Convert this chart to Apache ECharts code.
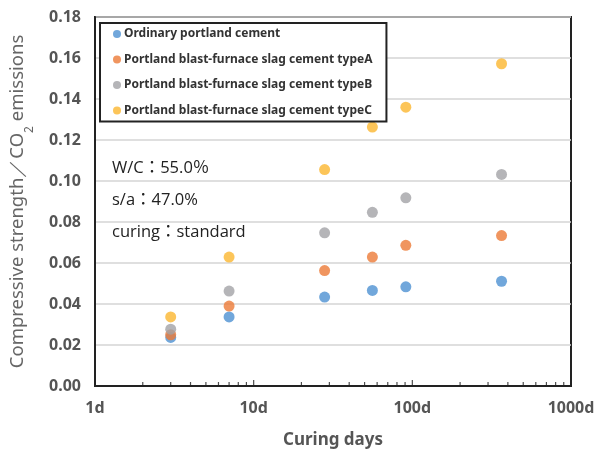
<!DOCTYPE html>
<html><head><meta charset="utf-8">
<script src="https://cdn.jsdelivr.net/npm/echarts@6/dist/echarts.min.js"></script>
<style>html,body{margin:0;padding:0;background:#fff}#c{width:611px;height:454px}</style>
</head><body><div id="c"></div>
<script>
const seriesNames = ['Ordinary portland cement','Portland blast-furnace slag cement typeA','Portland blast-furnace slag cement typeB','Portland blast-furnace slag cement typeC'];
const days = [3, 7, 28, 56, 91, 365];
const opcValues = [0.0237, 0.0337, 0.0434, 0.0466, 0.0484, 0.0511];
const typeAValues = [0.0250, 0.0390, 0.0563, 0.0629, 0.0686, 0.0734];
const typeBValues = [0.0277, 0.0463, 0.0747, 0.0847, 0.0918, 0.1032];
const typeCValues = [0.0337, 0.0629, 0.1056, 0.1263, 0.1360, 0.1572];
const colors = ['#4e91d2','#ec7a37','#a3a3a6','#fbb72f'];
const xTickLabels = {1:'1d',10:'10d',100:'100d',1000:'1000d'};
const minorTickDays = [2,3,4,5,6,7,8,9,20,30,40,50,60,70,80,90,200,300,400,500,600,700,800,900];
const majorTickDays = [10,100];
const annotations = ['W/C：55.0％','s/a：47.0%','curing：standard'];

const allValues = [opcValues, typeAValues, typeBValues, typeCValues];
const chart = echarts.init(document.getElementById('c'));
const series = allValues.map((vals, i) => ({
  name: seriesNames[i], type: 'scatter', symbol: 'circle', symbolSize: 11,
  itemStyle: {color: colors[i]}, z: 3,
  data: days.map((d, j) => [d, vals[j]])
}));
series.push({
  type: 'scatter', silent: true, symbol: 'rect', symbolSize: [1.2, 4], symbolOffset: [0, -2],
  itemStyle: {color: '#222'}, data: minorTickDays.map(d => [d, 0]), z: 2
});
series.push({
  type: 'scatter', silent: true, symbol: 'rect', symbolSize: [1.2, 6], symbolOffset: [0, -3],
  itemStyle: {color: '#222'}, data: majorTickDays.map(d => [d, 0]), z: 2
});
chart.setOption({
  animation: false,
  textStyle: {fontFamily: 'Noto Sans'},
  grid: {left: 94, right: 40, top: 17, bottom: 65, show: true, borderColor: '#222', borderWidth: 2, containLabel: false},
  legend: {
    data: seriesNames, orient: 'vertical', left: 100, top: 23,
    borderColor: '#222', borderWidth: 2, backgroundColor: '#fff',
    padding: [5, 14, 5, 13], itemGap: 13.5, itemWidth: 8, itemHeight: 8, icon: 'circle',
    textStyle: {fontSize: 12, fontWeight: 'bold', color: '#333', padding: [0,0,0,-2]}
  },
  xAxis: {
    type: 'log', logBase: 10, min: 1, max: 1000,
    name: 'Curing days', nameLocation: 'middle', nameGap: 46,
    nameTextStyle: {fontSize: 17, color: '#555', fontWeight: 'bold'},
    axisLine: {lineStyle: {color: '#222', width: 2}},
    axisTick: {show: false},
    splitLine: {show: false},
    axisLabel: {fontSize: 16, fontWeight: 'bold', color: '#555', margin: 14,
      formatter: v => xTickLabels[Math.round(v)] || ''}
  },
  yAxis: {
    type: 'value', min: 0, max: 0.18, interval: 0.02,
    name: 'Compressive strength／CO{s|2} emissions', nameLocation: 'middle', nameGap: 68,
    nameTextStyle: {fontSize: 18.5, color: '#666', rich: {s: {fontSize: 12, color: '#666', verticalAlign: 'bottom', padding: [0,0,-9,0]}}},
    axisLine: {show: true, lineStyle: {color: '#222', width: 2}},
    axisTick: {show: false},
    splitLine: {lineStyle: {color: '#d4d4d4', width: 1.5}},
    axisLabel: {fontSize: 16, fontWeight: 'bold', color: '#555', margin: 14,
      formatter: v => v.toFixed(2)}
  },
  graphic: annotations.map((t, i) => ({
    type: 'text', left: 112, top: 160 + i * 32, z: 10,
    style: {text: t, fontSize: 16.5, fill: '#222', fontFamily: "'Open Sans','Noto Sans CJK JP'"}
  })),
  series: series
});
</script></body></html>
